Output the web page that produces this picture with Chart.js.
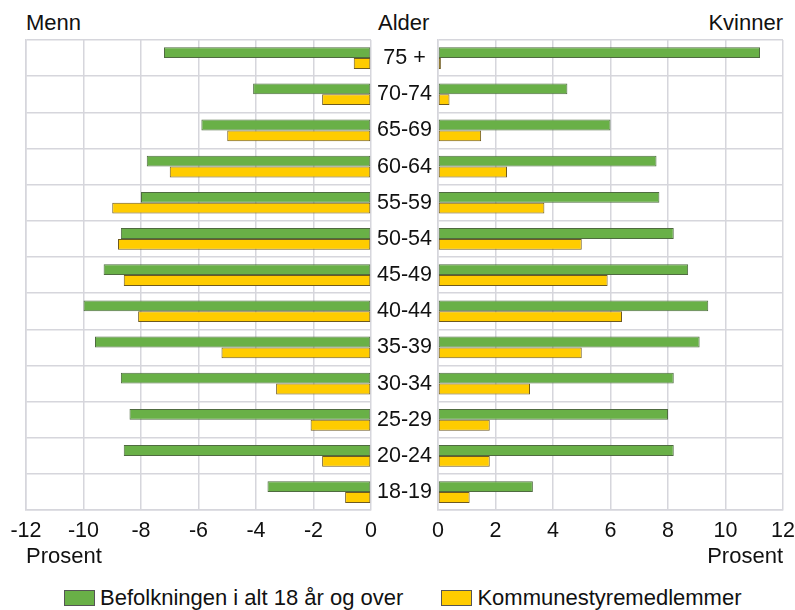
<!DOCTYPE html>
<html>
<head>
<meta charset="utf-8">
<style>
  body { margin: 0; background: #fff; font-family: "Liberation Sans", Arial, sans-serif; color: #111; }
  #wrap { position: relative; width: 795px; height: 610px; }
  .lbl { position: absolute; font-size: 22px; line-height: 22px; white-space: nowrap; }
  .box { display: inline-block; width: 29px; height: 14px; border: 1px solid #555; vertical-align: -1px; margin-right: 5px; }
</style>
</head>
<body>
<div id="wrap">
  <div class="lbl" style="left:26px; top:12px;">Menn</div>
  <div class="lbl" style="left:378px; top:12px;">Alder</div>
  <div class="lbl" style="right:12px; top:12px;">Kvinner</div>
  <div style="position:absolute; left:0; top:0; width:400px; height:552px;"><canvas id="menn"></canvas></div>
  <div style="position:absolute; left:371px; top:0; width:424px; height:552px;"><canvas id="kvinner"></canvas></div>
  <div class="lbl" style="left:26px; top:545px;">Prosent</div>
  <div class="lbl" style="right:12px; top:545px;">Prosent</div>
  <div class="lbl" style="left:64px; top:587px;">
    <span class="box" style="background:#69b047;"></span>Befolkningen i alt 18 år og over
    <span class="box" style="background:#ffcc00; margin-left:32px;"></span>Kommunestyremedlemmer
  </div>
</div>

<script src="https://cdn.jsdelivr.net/npm/chart.js"></script>
<script>
  const ages = ['75 +', '70-74', '65-69', '60-64', '55-59', '50-54', '45-49', '40-44', '35-39', '30-34', '25-29', '20-24', '18-19'];

  // Menn (negative side)
  const mennBefolkning = [-7.2, -4.1, -5.9, -7.8, -8.0, -8.7, -9.3, -10.0, -9.6, -8.7, -8.4, -8.6, -3.6];
  const mennKommune = [-0.6, -1.7, -5.0, -7.0, -9.0, -8.8, -8.6, -8.1, -5.2, -3.3, -2.1, -1.7, -0.9];

  // Kvinner
  const kvinnerBefolkning = [11.2, 4.5, 6.0, 7.6, 7.7, 8.2, 8.7, 9.4, 9.1, 8.2, 8.0, 8.2, 3.3];
  const kvinnerKommune = [0.1, 0.4, 1.5, 2.4, 3.7, 5.0, 5.9, 6.4, 5.0, 3.2, 1.8, 1.8, 1.1];

  const gridColor = '#d6d6dc';
  const tickFont = { family: 'Liberation Sans', size: 21.5 };

  function makeDatasets(befolkning, kommune) {
    return [
      { label: 'Befolkningen i alt 18 år og over', data: befolkning, backgroundColor: '#69b047', borderColor: '#4f6b40', borderWidth: 1, borderSkipped: false },
      { label: 'Kommunestyremedlemmer', data: kommune, backgroundColor: '#ffcc00', borderColor: '#6e5a20', borderWidth: 1, borderSkipped: false }
    ];
  }

  // let the layout padding alone decide where the plot area ends
  function noLabelPadding(s) {
    s.paddingLeft = 0;
    s.paddingRight = 0;
  }

  const common = {
    indexAxis: 'y',
    responsive: true,
    maintainAspectRatio: false,
    animation: false,
    categoryPercentage: 0.6,
    barPercentage: 1,
    plugins: { legend: { display: false }, tooltip: { enabled: false } }
  };

  new Chart(document.getElementById('menn'), {
    type: 'bar',
    data: { labels: ages, datasets: makeDatasets(mennBefolkning, mennKommune) },
    options: Object.assign({}, common, {
      layout: { padding: { left: 26, right: 29, top: 40, bottom: 0 } },
      scales: {
        x: {
          min: -12, max: 0,
          ticks: { stepSize: 2, color: '#111', font: tickFont, padding: 8, maxRotation: 0 },
          grid: { color: gridColor, lineWidth: 1.5, drawTicks: false },
          border: { color: gridColor, width: 1.5 },
          afterFit: noLabelPadding
        },
        y: {
          ticks: { display: false },
          grid: { color: gridColor, lineWidth: 1.5, drawTicks: false, offset: true },
          border: { color: gridColor, width: 1.5 },
          afterFit: function (s) { s.width = 0; }
        }
      }
    })
  });

  new Chart(document.getElementById('kvinner'), {
    type: 'bar',
    data: { labels: ages, datasets: makeDatasets(kvinnerBefolkning, kvinnerKommune) },
    options: Object.assign({}, common, {
      layout: { padding: { left: 0, right: 12, top: 40, bottom: 0 } },
      scales: {
        x: {
          min: 0, max: 12,
          ticks: { stepSize: 2, color: '#111', font: tickFont, padding: 8, maxRotation: 0 },
          grid: { color: gridColor, lineWidth: 1.5, drawTicks: false },
          border: { color: gridColor, width: 1.5 },
          afterFit: noLabelPadding
        },
        y: {
          ticks: { color: '#111', font: tickFont, crossAlign: 'center', padding: 6 },
          grid: { color: gridColor, lineWidth: 1.5, drawTicks: false, offset: true },
          border: { color: gridColor, width: 1.5 },
          afterFit: function (s) { s.width = 67; }
        }
      }
    })
  });
</script>
</body>
</html>
